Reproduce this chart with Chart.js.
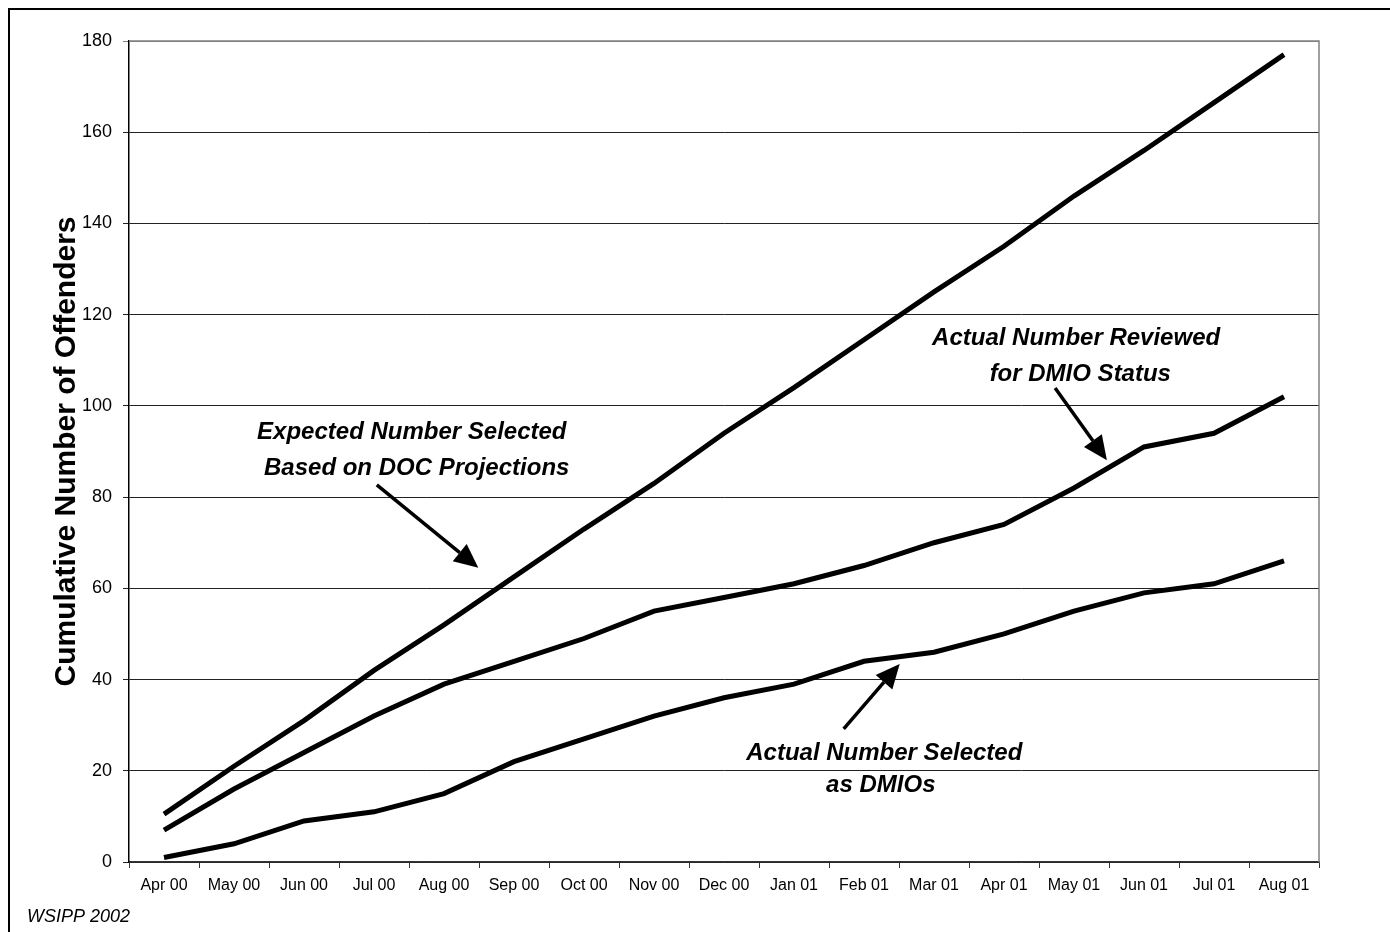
<!DOCTYPE html>
<html lang="en">
<head>
  <meta charset="UTF-8" />
  <title>Cumulative Number of Offenders</title>
  <script src="https://cdn.jsdelivr.net/npm/chart.js"></script>
  <style>
    html, body {
      margin: 0;
      padding: 0;
      background: #fff;
    }
    #chart {
      display: block;
    }
  </style>
</head>
<body>
  <canvas id="chart" width="1390" height="932"></canvas>

  <script>
    const FONT = "'Liberation Sans', Arial, sans-serif";

    const months = ['Apr 00', 'May 00', 'Jun 00', 'Jul 00', 'Aug 00', 'Sep 00', 'Oct 00', 'Nov 00',
      'Dec 00', 'Jan 01', 'Feb 01', 'Mar 01', 'Apr 01', 'May 01', 'Jun 01', 'Jul 01', 'Aug 01'];

    const expectedSelected = [10.5, 21, 31, 42, 52, 62.5, 73, 83, 94, 104, 114.5, 125, 135, 146, 156, 166.5, 177];
    const actualReviewed = [7, 16, 24, 32, 39, 44, 49, 55, 58, 61, 65, 70, 74, 82, 91, 94, 102];
    const actualSelected = [1, 4, 9, 11, 15, 22, 27, 32, 36, 39, 44, 46, 50, 55, 59, 61, 66];

    // callouts, placed in axis units (category index, value)
    const callouts = [
      {
        lines: ['Expected Number Selected', 'Based on DOC Projections'],
        at: [[3.54, 94.1], [3.61, 86.4]],
        arrow: [[3.04, 82.7], [4.49, 64.5]]
      },
      {
        lines: ['Actual Number Reviewed', 'for DMIO Status'],
        at: [[13.03, 114.7], [13.09, 106.8]],
        arrow: [[12.73, 103.9], [13.47, 88.1]]
      },
      {
        lines: ['Actual Number Selected', 'as DMIOs'],
        at: [[10.29, 23.9], [10.24, 16.9]],
        arrow: [[9.71, 29.2], [10.51, 43.4]]
      }
    ];

    function drawArrow(ctx, x0, y0, x1, y1) {
      const ang = Math.atan2(y1 - y0, x1 - x0);
      const headLen = 24, headHalf = 11;
      const bx = x1 - headLen * Math.cos(ang);
      const by = y1 - headLen * Math.sin(ang);
      ctx.beginPath();
      ctx.moveTo(x0, y0);
      ctx.lineTo(bx, by);
      ctx.lineWidth = 3.5;
      ctx.strokeStyle = '#000';
      ctx.stroke();
      ctx.beginPath();
      ctx.moveTo(x1, y1);
      ctx.lineTo(bx + headHalf * Math.sin(ang), by - headHalf * Math.cos(ang));
      ctx.lineTo(bx - headHalf * Math.sin(ang), by + headHalf * Math.cos(ang));
      ctx.closePath();
      ctx.fillStyle = '#000';
      ctx.fill();
    }

    const decorations = {
      id: 'decorations',
      beforeDraw(chart) {
        const ctx = chart.ctx;
        ctx.save();
        ctx.fillStyle = '#fff';
        ctx.fillRect(0, 0, chart.width, chart.height);
        ctx.restore();
      },
      afterDatasetsDraw(chart) {
        const {ctx, chartArea, scales} = chart;
        const x = scales.x, y = scales.y;
        ctx.save();

        // frame of the plot area (top and right)
        ctx.strokeStyle = '#808080';
        ctx.lineWidth = 1.5;
        ctx.beginPath();
        ctx.moveTo(chartArea.left, chartArea.top);
        ctx.lineTo(chartArea.right, chartArea.top);
        ctx.lineTo(chartArea.right, chartArea.bottom);
        ctx.stroke();

        // callout text and arrows
        ctx.font = `italic bold 24px ${FONT}`;
        ctx.fillStyle = '#000';
        ctx.textAlign = 'center';
        ctx.textBaseline = 'middle';
        callouts.forEach(c => {
          c.lines.forEach((t, i) => {
            ctx.fillText(t, x.getPixelForValue(c.at[i][0]), y.getPixelForValue(c.at[i][1]));
          });
          const [a, b] = c.arrow;
          drawArrow(ctx, x.getPixelForValue(a[0]), y.getPixelForValue(a[1]),
            x.getPixelForValue(b[0]), y.getPixelForValue(b[1]));
        });

        // source note
        ctx.font = `italic 18px ${FONT}`;
        ctx.textAlign = 'left';
        ctx.fillText('WSIPP 2002', 27, 917);

        // outer frame, left and top edges
        ctx.strokeStyle = '#000';
        ctx.lineWidth = 2;
        ctx.beginPath();
        ctx.moveTo(9, chart.height);
        ctx.lineTo(9, 9);
        ctx.lineTo(chart.width, 9);
        ctx.stroke();
        ctx.restore();
      }
    };

    const mkLine = (label, data) => ({
      label,
      data,
      borderColor: '#000',
      backgroundColor: '#000',
      borderWidth: 5,
      pointRadius: 0,
      pointHoverRadius: 0,
      tension: 0,
      fill: false,
      borderJoinStyle: 'miter',
      borderCapStyle: 'butt'
    });

    new Chart(document.getElementById('chart'), {
      type: 'line',
      data: {
        labels: months,
        datasets: [
          mkLine('Expected Number Selected Based on DOC Projections', expectedSelected),
          mkLine('Actual Number Reviewed for DMIO Status', actualReviewed),
          mkLine('Actual Number Selected as DMIOs', actualSelected)
        ]
      },
      options: {
        responsive: false,
        animation: false,
        layout: {
          padding: { left: 0, top: 41, right: 71, bottom: 0 }
        },
        plugins: {
          legend: { display: false },
          tooltip: { enabled: false }
        },
        scales: {
          x: {
            offset: true,
            grid: {
              offset: true,
              drawOnChartArea: false,
              drawTicks: true,
              tickLength: 6,
              color: '#333',
              lineWidth: 1
            },
            border: { color: '#333', width: 1.5 },
            ticks: {
              color: '#000',
              font: { family: FONT, size: 16 },
              padding: 8,
              maxRotation: 0,
              autoSkip: false
            },
            afterFit(scale) { scale.height = 70; }
          },
          y: {
            min: 0,
            max: 180,
            grid: {
              color: ctx => ctx.tick && ctx.tick.value === 180 ? '#808080' : '#222',
              lineWidth: 1,
              tickLength: 6,
              drawTicks: true
            },
            border: { color: '#000', width: 1.5 },
            ticks: {
              stepSize: 20,
              color: '#000',
              font: { family: FONT, size: 18 },
              padding: 11
            },
            title: {
              display: true,
              text: 'Cumulative Number of Offenders',
              color: '#000',
              font: { family: FONT, size: 30, weight: 'bold' },
              padding: { top: 49, bottom: 0 }
            },
            afterFit(scale) { scale.width = 129; }
          }
        }
      },
      plugins: [decorations]
    });
  </script>
</body>
</html>
